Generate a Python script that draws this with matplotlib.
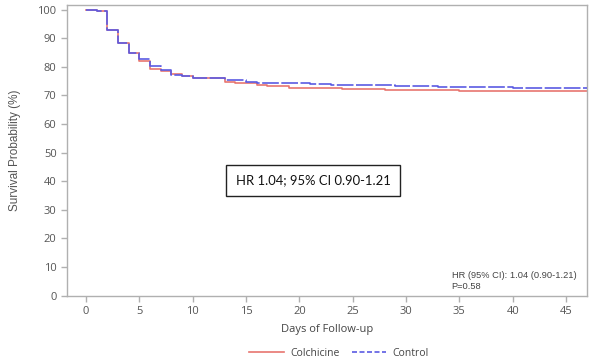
import matplotlib
matplotlib.use("Agg")
import matplotlib.pyplot as plt
from matplotlib.lines import Line2D

# Data
colch_days = [0, 1, 2, 3, 4, 5, 6, 7, 8, 9, 10, 13, 14, 16, 17, 19, 24, 28, 35, 47]
colch_surv = [100, 99.5, 92.9, 88.2, 84.8, 82.0, 79.3, 78.4, 77.6, 76.8, 76.0, 74.8, 74.2,
              73.6, 73.2, 72.7, 72.2, 71.9, 71.7, 71.7]
ctrl_days = [0, 1, 2, 3, 4, 5, 6, 7, 8, 9, 10, 13, 15, 16, 18, 21, 23, 29, 33, 40, 47]
ctrl_surv = [100, 99.5, 92.9, 88.2, 84.8, 82.8, 80.3, 78.9, 77.3, 76.8, 76.2, 75.3, 74.8,
             74.4, 74.2, 74.0, 73.8, 73.3, 73.0, 72.7, 72.7]
x_ticks = [0, 5, 10, 15, 20, 25, 30, 35, 40, 45]
y_ticks = [0, 10, 20, 30, 40, 50, 60, 70, 80, 90, 100]
labels = ["Colchicine", "Control"]

plt.rcParams['font.family'] = ['Open Sans', 'DejaVu Sans']

fig = plt.figure(figsize=(6.0, 3.59), dpi=100)
ax = fig.add_axes([67/600, 1-296/359, (587-67)/600, (296-4.7)/359])

red = '#e8756f'
blue = '#5b5be3'
ax.step(colch_days, colch_surv, where='post', color=red, lw=1.2, zorder=2)
ax.step(ctrl_days, ctrl_surv, where='post', color=blue, lw=1.2, dashes=(10, 1.5), zorder=3)

ax.set_xlim(-1.78, 46.96)
ax.set_ylim(-0.1, 101.7)
ax.set_xticks(x_ticks)
ax.set_yticks(y_ticks)
for s in ax.spines.values():
    s.set_color('#b0b0b0')
    s.set_linewidth(1.0)
ax.tick_params(direction='out', length=4, width=1, colors='#b0b0b0',
               labelcolor='#555555', labelsize=8)

ax.set_xlabel("Days of Follow-up", fontsize=8, color='#444444', labelpad=5)
ax.set_ylabel("Survival Probability (%)", fontsize=8.5, color='#555555', labelpad=12,
              family=['Liberation Sans', 'DejaVu Sans'])

ax.text((313-67)/520, 1-(180.5-4.7)/291.3, "HR 1.04; 95% CI 0.90-1.21",
        transform=ax.transAxes, ha='center', va='center', fontsize=9.4, color='#111111',
        family=['Lato', 'DejaVu Sans'],
        bbox=dict(boxstyle='square,pad=0.72', facecolor='white', edgecolor='#222222', lw=1))
ax.text((451.5-67)/520, 1-(281-4.7)/291.3, "HR (95% CI): 1.04 (0.90-1.21)\nP=0.58",
        transform=ax.transAxes, ha='left', va='center', fontsize=6.7, color='#444444',
        linespacing=1.35, family=['Liberation Sans', 'DejaVu Sans'])

handles = [Line2D([], [], color=red, lw=1.2),
           Line2D([], [], color=blue, lw=1.2, dashes=(3, 1.5))]
fig.legend(handles, labels, loc='center', bbox_to_anchor=(0.565, 0.015), ncol=2,
           frameon=False, fontsize=7.5, handlelength=3.3, columnspacing=1.2,
           handletextpad=0.6, labelcolor='#444444')

fig.savefig("out.png", dpi=100)
